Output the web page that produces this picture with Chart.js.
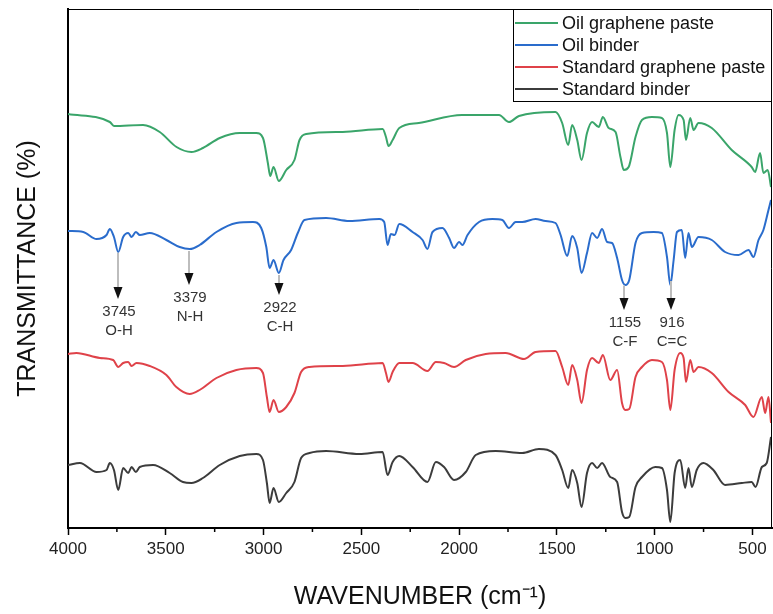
<!DOCTYPE html>
<html>
<head>
<meta charset="utf-8">
<script src="https://cdn.jsdelivr.net/npm/chart.js@4.4.0/dist/chart.umd.min.js"></script>
<style>
  html, body { margin: 0; padding: 0; background: #fff; }
</style>
</head>
<body>
<canvas id="ftir" width="773" height="614"></canvas>
<script>
// FTIR spectra, wavenumber (cm-1) vs transmittance (offset, a.u.)
const greenWn = [4000,3786,3765,3616,3531,3445,3369,3310,3224,3122,3037,3003,2978,2966,2949,2922,2884,2842,2816,2782,2595,2391,2374,2361,2340,2306,2206,1985,1796,1745,1694,1507,1473,1442,1422,1396,1374,1346,1320,1286,1265,1235,1200,1175,1158,1133,1098,1065,1014,963,937,920,898,878,852,840,818,801,776,708,606,504,486,461,444,422,405];
const greenT = [414,406,402,403,396,381,376,380,390,395,395,390,365,352,361,347,358,368,388,394,396,399,391,382,388,400,405,413,413,406,412,416,405,383,403,388,368,395,406,401,411,400,396,371,358,361,391,408,411,410,395,361,398,413,408,388,410,398,405,400,378,361,356,375,355,358,341];

const blueWn = [4000,3922,3854,3803,3786,3765,3743,3718,3692,3675,3653,3633,3582,3497,3429,3378,3327,3241,3139,3054,3012,2986,2969,2949,2922,2898,2859,2825,2791,2680,2561,2408,2383,2366,2349,2330,2306,2238,2187,2162,2136,2085,2051,2026,2000,1983,1957,1898,1830,1779,1745,1711,1677,1609,1558,1507,1481,1447,1422,1396,1374,1346,1320,1294,1269,1243,1218,1192,1167,1150,1130,1098,1065,1005,963,937,920,903,886,861,844,827,810,776,708,640,571,520,495,469,444,418,405];
const blueT = [297,296,289,293,299,291,276,291,295,291,296,293,295,288,281,279,283,296,305,306,300,281,260,268,255,268,278,295,308,310,307,309,306,283,294,293,304,296,288,279,296,300,290,280,286,283,293,306,309,308,300,306,306,309,307,305,293,272,292,280,255,275,295,290,299,286,285,270,248,243,248,285,295,296,295,271,243,268,296,298,270,295,281,291,288,276,273,278,271,288,298,318,328];

const redWn = [4000,3957,3837,3769,3743,3718,3692,3675,3650,3582,3497,3446,3378,3327,3241,3139,3037,3003,2983,2969,2949,2922,2884,2842,2808,2765,2595,2391,2374,2361,2340,2306,2238,2162,2119,2077,2026,1966,1864,1762,1668,1609,1507,1473,1442,1422,1396,1374,1346,1320,1286,1265,1227,1192,1167,1150,1130,1098,1065,1014,963,937,920,898,869,852,840,818,801,776,708,622,537,495,452,435,418,405];
const redT = [174,175,170,168,161,165,166,162,165,162,153,141,134,138,150,158,160,155,131,116,128,116,121,135,156,161,162,165,155,146,156,165,165,157,166,165,161,168,174,175,169,176,177,161,143,163,148,125,158,170,165,173,148,158,125,118,119,151,161,168,166,148,118,158,175,170,146,168,156,161,155,136,123,111,131,115,131,105];

const blackWn = [4000,3939,3854,3803,3786,3765,3743,3718,3692,3675,3653,3633,3565,3480,3412,3369,3310,3224,3122,3037,3003,2983,2969,2949,2922,2884,2842,2808,2765,2680,2510,2391,2366,2340,2306,2238,2162,2119,2077,2026,1966,1915,1813,1677,1592,1507,1473,1442,1422,1396,1374,1346,1320,1294,1269,1227,1192,1167,1150,1130,1098,1065,997,963,937,920,898,869,844,827,810,785,751,700,640,554,504,484,452,427,405];
const blackT = [63,65,56,58,65,58,38,60,55,61,56,61,63,55,46,45,50,63,72,74,68,45,25,40,26,35,46,70,75,77,74,76,53,66,72,61,46,66,61,48,56,73,77,75,79,73,58,40,58,45,21,55,65,60,65,51,46,16,10,11,41,51,61,60,38,6,55,68,40,60,41,58,65,58,43,45,46,41,61,65,91];

const seriesNames = ["Oil graphene paste", "Oil binder", "Standard graphene paste", "Standard binder"];
const xTicks = [4000, 3500, 3000, 2500, 2000, 1500, 1000, 500];
const xMinorTicks = [3750, 3250, 2750, 2250, 1750, 1250, 750];

// marked peaks on the oil binder trace
const peakWn = [3745, 3379, 2922, 1155, 916];
const peakBond = ["O-H", "N-H", "C-H", "C-F", "C=C"];
const peakTip = [229, 243, 233, 218, 218];

const FONT = '"Liberation Sans", Arial, sans-serif';

function pts(wn, t) {
  return wn.map((w, i) => ({ x: w, y: t[i] }));
}

// value of a trace at a given wavenumber
function valueAt(wn, t, w) {
  for (let i = 0; i < wn.length - 1; i++) {
    if (w <= wn[i] && w >= wn[i + 1]) {
      const f = (wn[i] - w) / (wn[i] - wn[i + 1]);
      return t[i] + f * (t[i + 1] - t[i]);
    }
  }
  return t[t.length - 1];
}

const framePlugin = {
  id: 'frame',
  afterDraw(chart) {
    const ctx = chart.ctx, a = chart.chartArea, xs = chart.scales.x;
    ctx.save();
    ctx.strokeStyle = '#000';
    ctx.lineWidth = 1;
    ctx.beginPath();
    ctx.moveTo(a.left, a.top + 0.5);
    ctx.lineTo(a.right - 0.5, a.top + 0.5);
    ctx.lineTo(a.right - 0.5, a.bottom);
    ctx.stroke();
    // minor ticks
    ctx.lineWidth = 1.5;
    xMinorTicks.forEach(v => {
      const x = xs.getPixelForValue(v);
      ctx.beginPath();
      ctx.moveTo(x, a.bottom);
      ctx.lineTo(x, a.bottom + 4);
      ctx.stroke();
    });
    // legend box
    const lx = 513;
    ctx.lineWidth = 1;
    ctx.fillStyle = '#fff';
    ctx.fillRect(lx, a.top, a.right - lx, 92);
    ctx.strokeRect(lx + 0.5, a.top + 0.5, a.right - lx - 1, 92);
    chart.data.datasets.forEach((ds, i) => {
      const y = 23 + i * 22;
      ctx.strokeStyle = ds.borderColor;
      ctx.lineWidth = 2;
      ctx.beginPath();
      ctx.moveTo(515, y);
      ctx.lineTo(558, y);
      ctx.stroke();
      ctx.fillStyle = '#111';
      ctx.font = '18px ' + FONT;
      ctx.textBaseline = 'middle';
      ctx.textAlign = 'left';
      ctx.fillText(ds.label, 562, y + 1);
    });
    ctx.restore();
  }
};

const peakPlugin = {
  id: 'peaks',
  afterDatasetsDraw(chart) {
    const ctx = chart.ctx, xs = chart.scales.x, ys = chart.scales.y;
    ctx.save();
    peakWn.forEach((w, i) => {
      const x = Math.round(xs.getPixelForValue(w));
      const yTop = ys.getPixelForValue(valueAt(blueWn, blueT, w)) + 2;
      const yTip = ys.getPixelForValue(peakTip[i]);
      ctx.strokeStyle = '#bdbdbd';
      ctx.lineWidth = 2;
      ctx.beginPath();
      ctx.moveTo(x, yTop);
      ctx.lineTo(x, yTip - 11);
      ctx.stroke();
      ctx.fillStyle = '#111';
      ctx.beginPath();
      ctx.moveTo(x - 4.5, yTip - 12);
      ctx.lineTo(x + 4.5, yTip - 12);
      ctx.lineTo(x, yTip);
      ctx.closePath();
      ctx.fill();
      ctx.fillStyle = '#333';
      ctx.font = '15px ' + FONT;
      ctx.textAlign = 'center';
      ctx.textBaseline = 'middle';
      ctx.fillText(String(w), x + 1, yTip + 13);
      ctx.fillText(peakBond[i], x + 1, yTip + 32);
    });
    ctx.restore();
  }
};

const colors = ['#3aa56a', '#2a6ccc', '#df4249', '#3c3c3c'];
const traces = [pts(greenWn, greenT), pts(blueWn, blueT), pts(redWn, redT), pts(blackWn, blackT)];

new Chart(document.getElementById('ftir'), {
  type: 'line',
  data: {
    datasets: traces.map((d, i) => ({
      label: seriesNames[i],
      data: d,
      borderColor: colors[i],
      borderWidth: 2,
      pointRadius: 0,
      cubicInterpolationMode: 'monotone',
      fill: false
    }))
  },
  options: {
    responsive: false,
    animation: false,
    devicePixelRatio: 1,
    layout: { padding: { top: 9, right: 1, left: 0, bottom: 0 } },
    plugins: { legend: { display: false }, tooltip: { enabled: false } },
    scales: {
      x: {
        type: 'linear',
        reverse: true,
        min: 400,
        max: 4000,
        afterBuildTicks: s => { s.ticks = xTicks.map(v => ({ value: v })); },
        afterFit: s => { s.height = 86; },
        border: { color: '#000', width: 2 },
        grid: { drawOnChartArea: false, drawTicks: true, tickLength: 7, color: '#000', tickWidth: 1.5 },
        ticks: {
          color: '#222',
          font: { family: FONT, size: 17 },
          padding: 4,
          maxRotation: 0,
          autoSkip: false,
          callback: v => String(v)
        },
        title: {
          display: true,
          text: 'WAVENUMBER (cm\u207B\u00B9)',
          color: '#111',
          font: { family: FONT, size: 25 },
          padding: { top: 0, bottom: 2 }
        }
      },
      y: {
        min: 0,
        max: 519,
        afterFit: s => { s.width = 68; },
        border: { color: '#000', width: 2 },
        grid: { display: false },
        ticks: { display: false },
        title: {
          display: true,
          text: 'TRANSMITTANCE (%)',
          color: '#111',
          font: { family: FONT, size: 25 },
          padding: { top: 13, bottom: 0 }
        }
      }
    }
  },
  plugins: [framePlugin, peakPlugin]
});
</script>
</body>
</html>
